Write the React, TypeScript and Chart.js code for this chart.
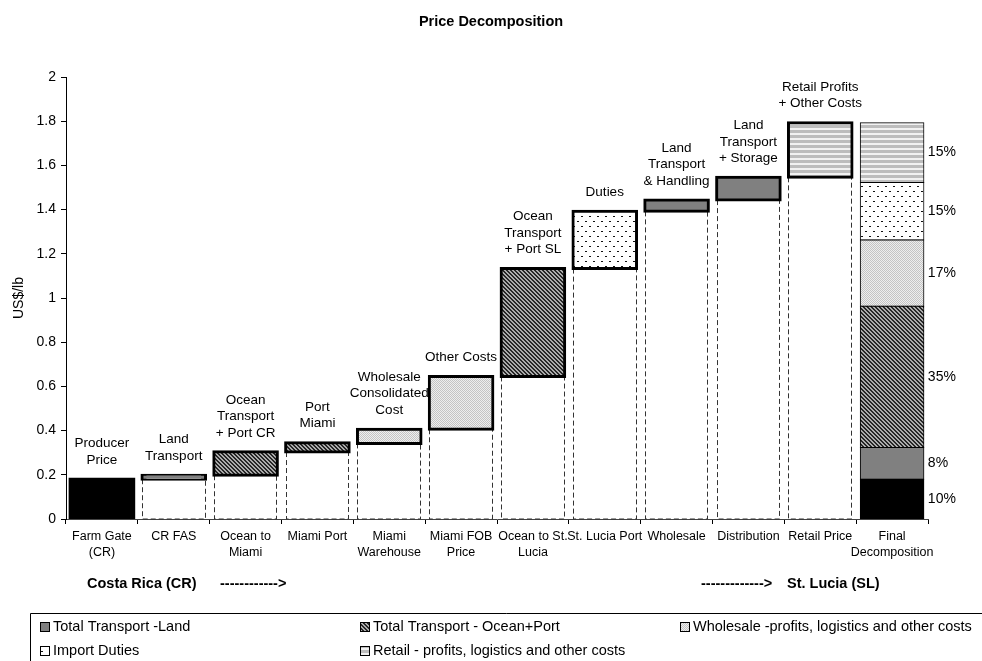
import React, { useEffect, useRef } from "react";
import { Chart, registerables } from "chart.js";

Chart.register(...registerables);

const FONT = '"Liberation Sans", Arial, Helvetica, sans-serif';

const categories: (string | string[])[] = [
  ["Farm Gate", "(CR)"],
  "CR FAS",
  ["Ocean to", "Miami"],
  "Miami Port",
  ["Miami", "Warehouse"],
  ["Miami FOB", "Price"],
  ["Ocean to St.", "Lucia"],
  "St. Lucia Port",
  "Wholesale",
  "Distribution",
  "Retail Price",
  ["Final", "Decomposition"],
];

type Range = [number, number] | null;

const producerPrice: Range[] = [[0, 0.18], null, null, null, null, null, null, null, null, null, null, [0, 0.18]];
const landTransport: Range[] = [null, [0.18, 0.198], null, null, null, null, null, null, [1.392, 1.444], [1.443, 1.546], null, [0.18, 0.324]];
const oceanPort: Range[] = [null, null, [0.198, 0.304], [0.303, 0.345], null, null, [0.645, 1.133], null, null, null, null, [0.324, 0.963]];
const wholesaleCosts: Range[] = [null, null, null, null, [0.342, 0.406], [0.406, 0.645], null, null, null, null, null, [0.963, 1.263]];
const importDuties: Range[] = [null, null, null, null, null, null, null, [1.133, 1.392], null, null, null, [1.263, 1.523]];
const retailCosts: Range[] = [null, null, null, null, null, null, null, null, null, null, [1.546, 1.793], [1.523, 1.793]];

const seriesNames = [
  "Producer Price",
  "Total Transport -Land",
  "Total Transport - Ocean+Port",
  "Wholesale -profits, logistics and other costs",
  "Import Duties",
  "Retail - profits, logistics and other costs",
];

const stepLabels: (string[] | null)[] = [
  ["Producer", "Price"],
  ["Land", "Transport"],
  ["Ocean", "Transport", "+ Port CR"],
  ["Port", "Miami"],
  ["Wholesale", "Consolidated", "Cost"],
  ["Other Costs"],
  ["Ocean", "Transport", "+ Port SL"],
  ["Duties"],
  ["Land", "Transport", "& Handling"],
  ["Land", "Transport", "+ Storage"],
  ["Retail Profits", "+ Other Costs"],
  null,
];

const finalShares = ["10%", "8%", "35%", "17%", "15%", "15%"];

const chartTitle = "Price Decomposition";
const yTitle = "US$/lb";
const originText = "Costa Rica (CR)";
const destText = "St. Lucia (SL)";

function makePattern(w: number, h: number, draw: (c: CanvasRenderingContext2D) => void): CanvasPattern | string {
  const cv = document.createElement("canvas");
  cv.width = w;
  cv.height = h;
  const c = cv.getContext("2d")!;
  draw(c);
  const ctx = document.createElement("canvas").getContext("2d")!;
  return ctx.createPattern(cv, "repeat") || "#888";
}

export default function App() {
  const ref = useRef<HTMLCanvasElement | null>(null);

  useEffect(() => {
    document.body.style.margin = "0";
    const canvas = ref.current;
    if (!canvas) return;

    const hatch = makePattern(4, 4, (c) => {
      for (let x = 0; x < 4; x++)
        for (let y = 0; y < 4; y++) {
          c.fillStyle = (x - y + 8) % 4 < 2 ? "#262626" : "#ababab";
          c.fillRect(x, y, 1, 1);
        }
    });
    const fineDots = makePattern(2, 2, (c) => {
      c.fillStyle = "#eeeeee";
      c.fillRect(0, 0, 2, 2);
      c.fillStyle = "#c4c4c4";
      c.fillRect(0, 0, 1, 1);
      c.fillRect(1, 1, 1, 1);
    });
    const sparseDots = makePattern(8, 10, (c) => {
      c.fillStyle = "#ffffff";
      c.fillRect(0, 0, 8, 10);
      c.fillStyle = "#111";
      c.fillRect(1, 1, 2, 1);
      c.fillRect(5, 6, 2, 1);
    });
    const hStripes = makePattern(4, 5, (c) => {
      c.fillStyle = "#f2f2f2";
      c.fillRect(0, 0, 4, 5);
      c.fillStyle = "#bdbdbd";
      c.fillRect(0, 0, 4, 3);
    });

    const fills: (CanvasPattern | string)[] = ["#000000", "#808080", hatch, fineDots, sparseDots, hStripes];
    const seriesData = [producerPrice, landTransport, oceanPort, wholesaleCosts, importDuties, retailCosts];
    const finalIndex = categories.length - 1;

    const overlay = {
      id: "overlay",
      beforeDatasetsDraw(chart: any) {
        const c: CanvasRenderingContext2D = chart.ctx;
        const y0 = chart.scales.y.getPixelForValue(0);
        c.save();
        c.strokeStyle = "#333";
        c.lineWidth = 1;
        c.setLineDash([5, 3]);
        for (let i = 1; i < finalIndex; i++) {
          for (let d = 0; d < seriesData.length; d++) {
            const v = seriesData[d][i];
            if (!v) continue;
            const el = chart.getDatasetMeta(d).data[i];
            const p = el.getProps(["x", "y", "base", "width"], true);
            const bottom = Math.max(p.y, p.base);
            const l = Math.round(p.x - p.width / 2) + 0.5;
            const r = Math.round(p.x + p.width / 2) - 0.5;
            c.beginPath();
            c.moveTo(l, bottom);
            c.lineTo(l, y0);
            c.lineTo(r, y0);
            c.lineTo(r, bottom);
            c.stroke();
          }
        }
        c.restore();
      },
      afterDraw(chart: any) {
        const c: CanvasRenderingContext2D = chart.ctx;
        c.save();
        c.fillStyle = "#000";
        c.textBaseline = "middle";

        // step labels
        c.font = `13.5px ${FONT}`;
        c.textAlign = "center";
        for (let i = 0; i < categories.length; i++) {
          const lines = stepLabels[i];
          if (!lines) continue;
          for (let d = 0; d < seriesData.length; d++) {
            if (!seriesData[d][i]) continue;
            const p = chart.getDatasetMeta(d).data[i].getProps(["x", "y", "base"], true);
            const top = Math.min(p.y, p.base);
            const n = lines.length;
            lines.forEach((t, j) => {
              c.fillText(t, p.x, top - 19 - (n - 1 - j) * 16.5);
            });
          }
        }

        // final shares
        c.font = `14px ${FONT}`;
        c.textAlign = "left";
        for (let d = 0; d < seriesData.length; d++) {
          const p = chart.getDatasetMeta(d).data[finalIndex].getProps(["x", "y", "base", "width"], true);
          c.fillText(finalShares[d], p.x + p.width / 2 + 4, (p.y + p.base) / 2);
        }

        // title
        c.font = `bold 14.5px ${FONT}`;
        c.textAlign = "center";
        c.fillText(chartTitle, 491, 22);

        // y title
        c.save();
        c.font = `14px ${FONT}`;
        c.translate(19, (chart.chartArea.top + chart.chartArea.bottom) / 2);
        c.rotate(-Math.PI / 2);
        c.textAlign = "center";
        c.fillText(yTitle, 0, 0);
        c.restore();

        // route
        c.font = `bold 14.5px ${FONT}`;
        c.textAlign = "left";
        c.fillText(originText, 87, 584);
        c.fillText("------------>", 220, 584);
        c.fillText("-------------> ", 701, 584);
        c.fillText(destText, 787, 584);

        // legend box
        c.strokeStyle = "#000";
        c.lineWidth = 1;
        c.beginPath();
        c.moveTo(30.5, 700);
        c.lineTo(30.5, 613.5);
        c.lineTo(990, 613.5);
        c.stroke();

        c.font = `14.5px ${FONT}`;
        for (let k = 1; k < seriesNames.length; k++) {
          const idx = k - 1;
          const col = idx % 3;
          const row = Math.floor(idx / 3);
          const sx = 40 + col * 320;
          const sy = 627 + row * 24;
          c.fillStyle = fills[k] as any;
          c.fillRect(sx, sy - 5, 10, 10);
          c.strokeStyle = "#000";
          c.strokeRect(sx + 0.5, sy - 4.5, 9, 9);
          c.fillStyle = "#000";
          c.fillText(seriesNames[k], sx + 13, sy);
        }
        c.restore();
      },
    };

    const chart = new Chart(canvas, {
      type: "bar",
      data: {
        labels: categories,
        datasets: seriesData.map((data, d) => ({
          label: seriesNames[d],
          data: data as any,
          backgroundColor: fills[d] as any,
          borderColor: "#000",
          borderWidth: (ctx: any) =>
            ctx.dataIndex === finalIndex ? 1 : d === 0 ? 0 : 3,
          inflateAmount: (ctx: any) => (ctx.dataIndex === finalIndex ? 0.5 : 1.5),
          borderSkipped: false,
          grouped: false,
          barPercentage: 0.885,
          categoryPercentage: 1,
        })),
      },
      options: {
        responsive: false,
        animation: false,
        devicePixelRatio: 1,
        layout: { padding: { top: 77, right: 54, left: 0, bottom: 0 } },
        plugins: {
          legend: { display: false },
          title: { display: false },
          tooltip: { enabled: false },
        },
        scales: {
          x: {
            grid: { drawOnChartArea: false, drawTicks: true, tickLength: 5, color: "#000", offset: true },
            border: { display: true, color: "#444", dash: [5, 3] },
            ticks: {
              autoSkip: false,
              maxRotation: 0,
              minRotation: 0,
              color: "#000",
              padding: 5,
              font: { family: FONT, size: 12.5, lineHeight: 1.28 },
            },
            afterFit: (s: any) => {
              s.height = 142;
            },
          },
          y: {
            min: 0,
            max: 2,
            grid: { drawOnChartArea: false, drawTicks: true, tickLength: 5, color: "#000" },
            border: { display: true, color: "#000" },
            ticks: {
              stepSize: 0.2,
              color: "#000",
              padding: 5,
              font: { family: FONT, size: 14 },
              callback: (v: any) => String(Number(Number(v).toFixed(1))),
            },
            afterFit: (s: any) => {
              s.width = 66;
            },
          },
        },
      },
      plugins: [overlay],
    });

    return () => chart.destroy();
  }, []);

  return (
    <div style={{ width: 982, height: 661 }}>
      <canvas ref={ref} width={982} height={661} style={{ display: "block" }} />
    </div>
  );
}
